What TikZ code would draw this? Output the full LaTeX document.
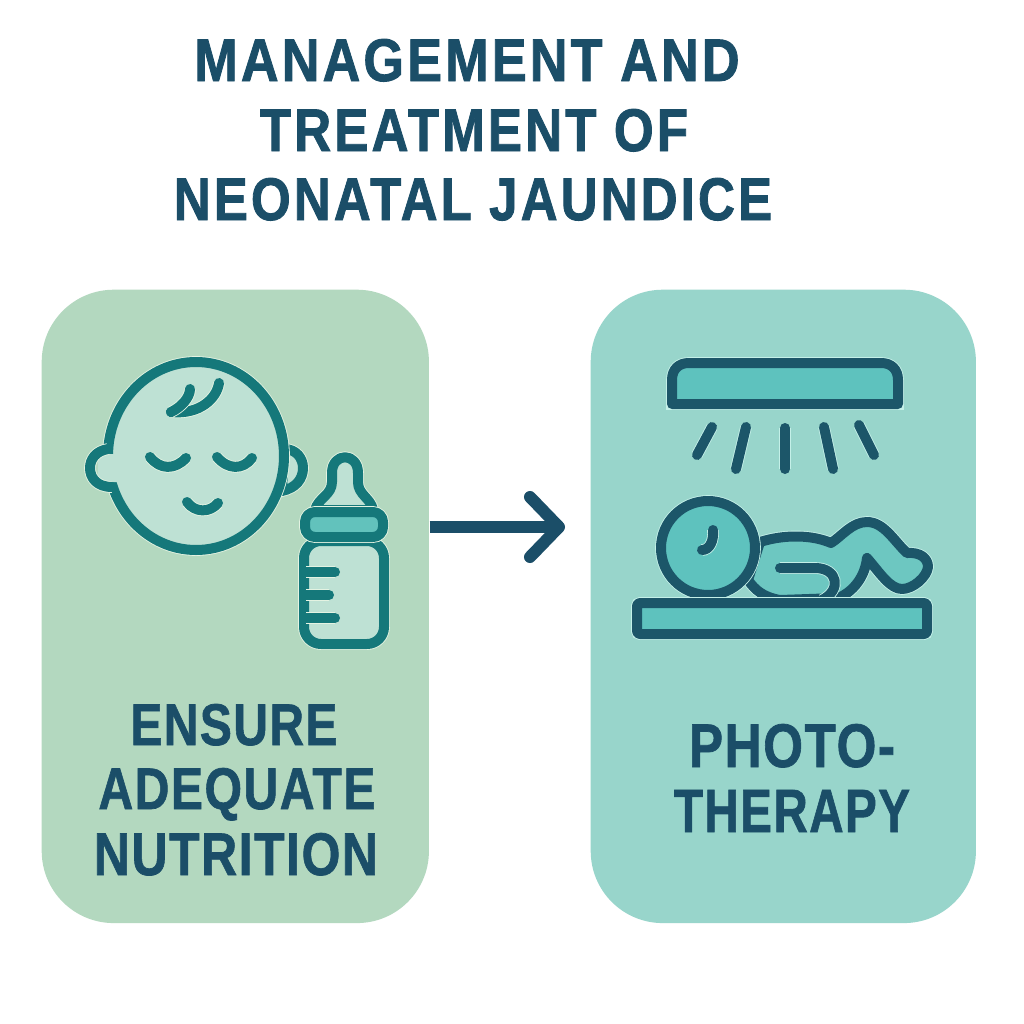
\documentclass[tikz,border=0pt]{standalone}
\usepackage{fontspec}
\setmainfont{Liberation Sans}[LetterSpace=3,BoldFeatures={FakeBold=1.2}]
\newfontfamily\titlefont{Liberation Sans}[LetterSpace=6,BoldFeatures={FakeBold=1.5}]
\usetikzlibrary{arrows.meta}
\definecolor{panelL}{HTML}{B3D8BF}
\definecolor{panelR}{HTML}{98D5CB}
\definecolor{faceC}{HTML}{BEE1D4}
\definecolor{tealL}{HTML}{15787A}
\definecolor{tealD}{HTML}{1C5669}
\definecolor{fillR}{HTML}{5EC2BE}
\definecolor{bandC}{HTML}{62C2BC}
\definecolor{inkC}{HTML}{1B4E68}
\definecolor{haloL}{HTML}{E4F3E2}
\definecolor{haloR}{HTML}{C4F0E8}
\newcommand{\fitbox}[3]{\resizebox{#1}{#2}{#3}}
\tikzset{
 panelbox/.style={rounded corners=0.72cm,inner sep=0pt,draw=none,minimum height=6.33cm,anchor=north west},
 titletext/.style={font=\titlefont\bfseries,text=inkC,inner sep=0pt,anchor=base},
 paneltext/.style={font=\bfseries,text=inkC,inner sep=0pt,anchor=base},
 iconL/.style={draw=tealL,line width=0.1cm,line join=round,line cap=round,preaction={draw=haloL,line width=0.117cm}},
 iconR/.style={draw=tealD,line width=0.1cm,line join=round,line cap=round,preaction={draw=haloR,line width=0.117cm}},
 flow/.style={draw=inkC,line width=0.12cm,-{Straight Barb[round,length=0.29cm,width=0.6cm,line width=0.12cm]}}
}
\begin{document}
\begin{tikzpicture}[x=0.01cm,y=-0.01cm]
\useasboundingbox (0,0) rectangle (1024,1024);
\fill[white] (0,0) rectangle (1024,1024);
% title
\node[titletext] (t1) at (467,81) {\fitbox{5.45cm}{0.42cm}{MANAGEMENT AND}};
\node[titletext] (t2) at (474,151) {\fitbox{4.28cm}{0.42cm}{TREATMENT OF}};
\node[titletext] (t3) at (473,220) {\fitbox{5.98cm}{0.42cm}{NEONATAL JAUNDICE}};
% panels
\node[panelbox,fill=panelL,minimum width=3.87cm] (left) at (41,289) {};
\node[panelbox,fill=panelR,minimum width=3.85cm] (right) at (590,289) {};
% arrow
\coordinate (tip) at (565,527);
\draw[flow] (left.east |- tip) -- (tip);
% right ear, baby head, left ear open into the face
\draw[iconL,fill=faceC] (284,449) .. controls (296,449) and (303,458) .. (303,468) .. controls (303,479) and (296,488) .. (282,491) -- cycle;
\draw[iconL,fill=faceC] (196,456) ellipse (88 and 94);
\fill[faceC] (98,454) -- (120,454) -- (122,482) -- (98,482) -- cycle;
\draw[iconL] (108,449) .. controls (96,451) and (90,459) .. (90,468) .. controls (90,478) and (97,487) .. (112,487);
% hair
\draw[iconL] (219,383) .. controls (217,398) and (200,415) .. (171,412);
\draw[iconL] (171,412) .. controls (180,408) and (190,398) .. (190,389);
% eyes and mouth
\draw[iconL] (150,457) .. controls (160,470) and (175,470) .. (186,458);
\draw[iconL] (217,457) .. controls (228,470) and (243,470) .. (252,458);
\draw[iconL] (187,502) .. controls (195,513) and (210,513) .. (218,503);
% bottle
\draw[iconL,fill=faceC] (315,510) .. controls (318,498) and (332,495) .. (332,482) -- (332,473) .. controls (332,452) and (358,452) .. (358,473) -- (358,482) .. controls (358,495) and (371,498) .. (373,510) -- cycle;
\draw[iconL,fill=faceC,rounded corners=0.17cm] (304,541) rectangle (384,644);
\draw[iconL,fill=bandC,rounded corners=0.1cm] (305,512) rectangle (383,537);
\draw[iconL] (306,572) -- (335,572);
\draw[iconL] (306,595) -- (329,595);
\draw[iconL] (306,618) -- (335,618);
% lamp
\draw[iconR,fill=fillR] (672,404) -- (672,380) .. controls (672,369) and (679,363) .. (689,363) -- (881,363) .. controls (891,363) and (898,369) .. (898,380) -- (898,404) -- cycle;
\draw[iconR] (712,427) -- (697,455);
\draw[iconR] (746,427) -- (736,469);
\draw[iconR] (785,428) -- (785,469);
\draw[iconR] (824,427) -- (833,469);
\draw[iconR] (859,425) -- (874,455);
% infant
\draw[iconR,fill=fillR!75!panelR] (760,542) .. controls (785,534) and (813,535) .. (831,543) .. controls (842,536) and (852,522) .. (867,522) .. controls (884,522) and (894,541) .. (907,553) .. controls (920,552) and (928,558) .. (928,567) .. controls (927,577) and (913,589) .. (902,589) .. controls (890,589) and (880,573) .. (867,558) .. controls (865,577) and (853,592) .. (838,598) -- (780,600) .. controls (763,597) and (755,590) .. (748,580) -- cycle;
\draw[iconR] (780,568) -- (815,568) .. controls (838,568) and (842,590) .. (822,600);
\draw[iconR,fill=fillR] (708,548) circle (47);
\draw[iconR] (713,530) .. controls (714,540) and (710,550) .. (702,550);
% platform
\draw[iconR,fill=fillR,rounded corners=0.03cm] (637,603) rectangle (927,634);
% labels
\node[paneltext] (n1) at (234,745) {\fitbox{2.07cm}{0.41cm}{ENSURE}};
\node[paneltext] (n2) at (237,809) {\fitbox{2.77cm}{0.41cm}{ADEQUATE}};
\node[paneltext] (n3) at (236,875) {\fitbox{2.84cm}{0.42cm}{NUTRITION}};
\node[paneltext] (r1) at (792,767) {\fitbox{2.06cm}{0.43cm}{PHOTO-}};
\node[paneltext] (r2) at (792,832) {\fitbox{2.36cm}{0.42cm}{THERAPY}};
\end{tikzpicture}
\end{document}
